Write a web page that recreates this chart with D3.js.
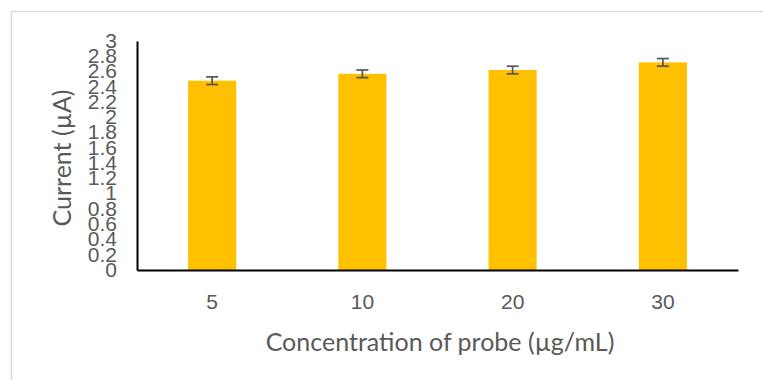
<!DOCTYPE html>
<html>
<head>
<meta charset="utf-8">
<script src="https://cdn.jsdelivr.net/npm/d3@7"></script>
<style>
  body { margin: 0; background: #fff; }
  svg { display: block; font-family: Lato, "Open Sans", sans-serif; }
</style>
</head>
<body>
<div id="chart"></div>
<script>
// data
const categories = ['5', '10', '20', '30'];
const currents = [2.48, 2.57, 2.62, 2.72];
const errors = [0.05, 0.05, 0.05, 0.05];
const yTicks = [0, 0.2, 0.4, 0.6, 0.8, 1, 1.2, 1.4, 1.6, 1.8, 2, 2.2, 2.4, 2.6, 2.8, 3];

const width = 763, height = 380;
const margin = { top: 41, right: 25, bottom: 110, left: 137 };
const innerWidth = width - margin.left - margin.right;
const innerHeight = height - margin.top - margin.bottom;

const svg = d3.select('#chart').append('svg')
    .attr('width', width)
    .attr('height', height);

// light outer frame (only top/left are visible in the reference)
svg.append('path')
    .attr('d', 'M11.5,380 L11.5,11.5 L763,11.5')
    .attr('fill', 'none')
    .attr('stroke', '#d9d9d9')
    .attr('stroke-width', 1.5);

const g = svg.append('g')
    .attr('transform', `translate(${margin.left},${margin.top})`);

const x = d3.scaleBand()
    .domain(categories)
    .range([0, innerWidth])
    .paddingInner(0.68)
    .paddingOuter(0.34);

const y = d3.scaleLinear()
    .domain([0, 3])
    .range([innerHeight, 0]);

// bars
g.selectAll('.bar')
    .data(currents)
    .join('rect')
    .attr('class', 'bar')
    .attr('x', (d, i) => x(categories[i]))
    .attr('y', d => y(d))
    .attr('width', x.bandwidth())
    .attr('height', d => innerHeight - y(d))
    .attr('fill', '#ffc000');

// error bars
const err = g.selectAll('.err')
    .data(currents)
    .join('g')
    .attr('class', 'err')
    .attr('stroke', '#595959')
    .attr('stroke-width', 1.75);

err.append('line')
    .attr('x1', (d, i) => x(categories[i]) + x.bandwidth() / 2)
    .attr('x2', (d, i) => x(categories[i]) + x.bandwidth() / 2)
    .attr('y1', (d, i) => y(d + errors[i]))
    .attr('y2', (d, i) => y(d - errors[i]));

[1, -1].forEach(s => {
    err.append('line')
        .attr('x1', (d, i) => x(categories[i]) + x.bandwidth() / 2 - 6)
        .attr('x2', (d, i) => x(categories[i]) + x.bandwidth() / 2 + 6)
        .attr('y1', (d, i) => y(d + s * errors[i]))
        .attr('y2', (d, i) => y(d + s * errors[i]));
});

// y axis
const yAxis = g.append('g')
    .call(d3.axisLeft(y).tickValues(yTicks).tickSize(0).tickPadding(20).tickFormat(d3.format('~g')));
yAxis.select('.domain').attr('stroke', '#000').attr('stroke-width', 2);
yAxis.selectAll('text')
    .attr('fill', '#595959')
    .attr('font-size', '21px')
    .attr('dy', '0.3em');

// x axis
const xAxis = g.append('g')
    .attr('transform', `translate(0,${innerHeight})`)
    .call(d3.axisBottom(x).tickSize(0).tickPadding(24));
xAxis.select('.domain').attr('stroke', '#000').attr('stroke-width', 2);
xAxis.selectAll('text')
    .attr('fill', '#595959')
    .attr('font-size', '21px');

// axis titles
svg.append('text')
    .attr('transform', 'translate(71,158) rotate(-90)')
    .attr('text-anchor', 'middle')
    .attr('fill', '#595959')
    .attr('font-size', '25px')
    .text('Current (µA)');

svg.append('text')
    .attr('x', 440)
    .attr('y', 351)
    .attr('text-anchor', 'middle')
    .attr('fill', '#595959')
    .attr('font-size', '25px')
    .text('Concentration of probe (µg/mL)');
</script>
</body>
</html>
